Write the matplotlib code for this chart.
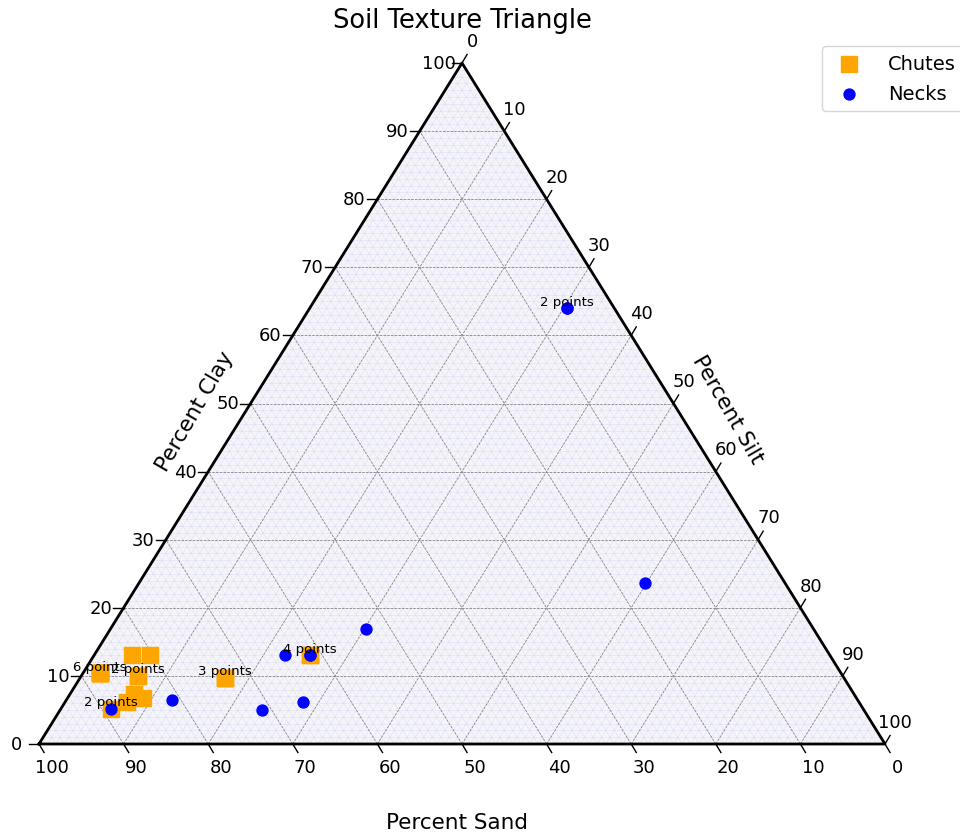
import numpy as np
import matplotlib
matplotlib.use("Agg")
from matplotlib import pyplot as plt
from collections import Counter

# ternary data: percent clay / percent silt (sand = 100 - clay - silt)
chutes_clay = [10.4, 10.4, 10.4, 10.4, 10.4, 10.4, 13.0, 13.1, 10.0, 10.0, 7.4, 6.7, 6.2, 5.2, 9.7, 9.7, 9.7, 13.0, 13.0]
chutes_silt = [2.0, 2.0, 2.0, 2.0, 2.0, 2.0, 4.5, 6.6, 6.7, 6.7, 7.5, 9.0, 7.3, 5.9, 17.1, 17.1, 17.1, 25.5, 25.5]
necks_clay = [5.2, 6.5, 5.0, 6.2, 13.0, 13.0, 13.0, 16.9, 64.0, 64.0, 23.7]
necks_silt = [5.9, 12.5, 23.9, 28.1, 22.6, 25.5, 25.5, 30.2, 30.4, 30.4, 59.8]
tick_values = list(range(0, 101, 10))


def project(clay, silt):
    clay = np.asarray(clay, dtype=float)
    silt = np.asarray(silt, dtype=float)
    return silt + clay / 2.0, clay


fig = plt.figure(figsize=(9.6, 8.37), dpi=100)
ax = fig.add_axes([39 / 960, 92 / 837, 846 / 960, 681 / 837])
ax.set_xlim(0, 100)
ax.set_ylim(0, 100)
ax.axis("off")

# background
ax.fill([0, 100, 50], [0, 0, 100], color="#f5f5f9", zorder=0)

# minor grid every 1 %
for i in range(1, 100):
    segs = [(i, 0, i, 100 - i), (0, i, 100 - i, i), (0, 100 - i, 100 - i, 0)]
    for (c0, s0, c1, s1) in segs:
        x0, y0 = project(c0, s0)
        x1, y1 = project(c1, s1)
        ax.plot([x0, x1], [y0, y1], color="#c4c4f2", lw=0.4, alpha=0.45, zorder=1)

# major grid every 10 %
for i in range(10, 100, 10):
    for (c0, s0, c1, s1) in [(i, 0, i, 100 - i), (0, i, 100 - i, i), (0, 100 - i, 100 - i, 0)]:
        x0, y0 = project(c0, s0)
        x1, y1 = project(c1, s1)
        ax.plot([x0, x1], [y0, y1], color="#888888", lw=0.6, ls=(0, (3, 1.5)), zorder=2)

# boundary
ax.plot([0, 100, 50, 0], [0, 0, 100, 0], color="black", lw=2, zorder=5, clip_on=False)

# ticks
for v in tick_values:
    # left axis: clay
    bx, by = project(v, 0)
    ax.plot([bx, bx - 1.2], [by, by], color="black", lw=1, clip_on=False)
    ax.annotate(str(v), (bx, by), xytext=(-16.5, 0), textcoords="offset points",
                ha="center", va="center", fontsize=13)
    # bottom axis: sand (100 at left)
    bx, by = 100 - v, 0
    ax.plot([bx, bx + 0.6], [by, by - 1.25], color="black", lw=1, clip_on=False)
    ax.annotate(str(v), (bx, by), xytext=(9, -16.5), textcoords="offset points",
                ha="center", va="center", fontsize=13)
    # right axis: silt (0 at top)
    bx, by = project(100 - v, v)
    ax.plot([bx, bx + 0.6], [by, by + 1.25], color="black", lw=1, clip_on=False)
    ax.annotate(str(v), (bx, by), xytext=(7.5, 16), textcoords="offset points",
                ha="center", va="center", fontsize=13)

# points
cx, cy = project(chutes_clay, chutes_silt)
nx, ny = project(necks_clay, necks_silt)
ax.scatter(cx, cy, marker="s", s=120, color="orange", label="Chutes", zorder=6, clip_on=False)
ax.scatter(nx, ny, marker="o", s=62, color="blue", label="Necks", zorder=7, clip_on=False)

# duplicate counts
counts = Counter(list(zip(chutes_clay, chutes_silt)) + list(zip(necks_clay, necks_silt)))
for (c, s), n in counts.items():
    if n > 1:
        px, py = project(c, s)
        ax.annotate("{} points".format(n), (px, py), xytext=(0, 5), textcoords="offset points",
                    ha="center", va="center", fontsize=9.5, zorder=8)

# axis labels
ax.text(18.4, 48.9, "Percent Clay", rotation=60, ha="center", va="center",
        rotation_mode="anchor", fontsize=15.5)
ax.text(81.4, 49.2, "Percent Silt", rotation=-60, ha="center", va="center",
        rotation_mode="anchor", fontsize=15.5)
ax.text(49.4, -11.5, "Percent Sand", ha="center", va="center", fontsize=15.5)

fig.text(462 / 960, 1 - 21 / 837, "Soil Texture Triangle", ha="center", va="center", fontsize=18.5)

fig.legend(loc="upper left", bbox_to_anchor=(822 / 960, 1 - 47 / 837), fontsize=14,
           frameon=True, borderaxespad=0, labelspacing=0.6, handletextpad=1.0)

fig.savefig("out.png", dpi=100)
